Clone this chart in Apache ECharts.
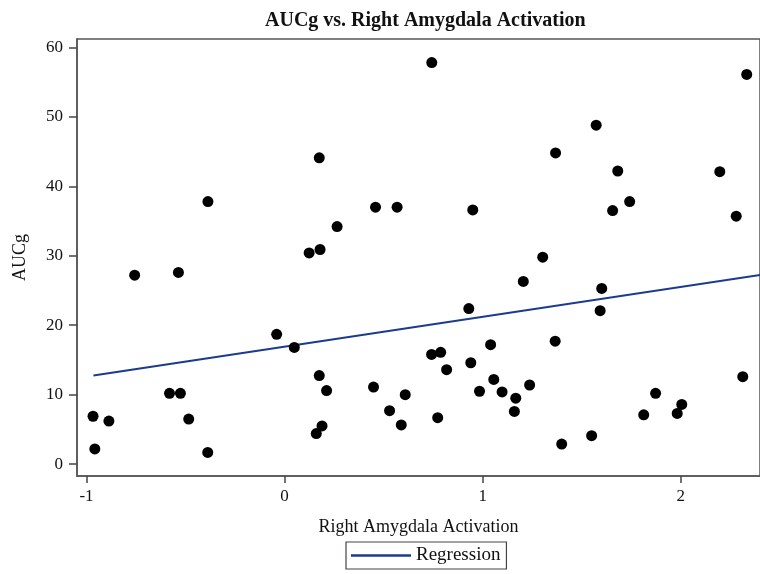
<!DOCTYPE html>
<html><head><meta charset="utf-8">
<script src="https://cdn.jsdelivr.net/npm/echarts@6/dist/echarts.min.js"></script>
<style>html,body{margin:0;padding:0;background:#fff}#c{width:760px;height:574px}</style>
</head><body><div id="c"></div>
<script>
var activation = [-0.967,-0.958,-0.887,-0.757,-0.536,-0.581,-0.526,-0.484,-0.388,-0.387,-0.04,0.049,0.124,0.179,0.175,0.265,0.459,0.568,0.743,0.950,0.175,0.212,0.189,0.160,0.449,0.530,0.609,0.589,0.742,0.788,0.818,0.773,0.930,0.940,1.040,1.056,0.984,1.098,1.167,1.160,1.205,2.333,1.573,1.368,1.682,2.197,1.742,1.656,2.280,1.303,1.601,1.593,1.366,2.313,1.237,1.873,2.005,1.982,1.813,1.399,1.550];
var aucg = [6.9,2.2,6.2,27.2,27.6,10.2,10.2,6.5,1.7,37.8,18.7,16.8,30.4,30.9,44.1,34.2,37.0,37.0,57.8,36.6,12.75,10.6,5.5,4.4,11.1,7.7,10.0,5.65,15.8,16.1,13.6,6.7,22.4,14.6,17.2,12.2,10.5,10.4,9.5,7.6,26.3,56.1,48.8,44.8,42.2,42.1,37.8,36.5,35.7,29.8,25.3,22.1,17.7,12.6,11.4,10.2,8.6,7.3,7.1,2.9,4.1];
var regX = [-0.965, 2.40];
var regY = [12.75, 27.25];
var xTicks = [-1, 0, 1, 2];
var yTicks = [0, 10, 20, 30, 40, 50, 60];

var pts = activation.map(function (v, i) { return [v, aucg[i]]; });
var reg = regX.map(function (v, i) { return [v, regY[i]]; });
var serif = 'Liberation Serif';
var chart = echarts.init(document.getElementById('c'), null, {renderer: 'canvas'});
chart.setOption({
  animation: false,
  backgroundColor: '#fff',
  title: {
    text: 'AUCg vs. Right Amygdala Activation',
    left: 260, top: 6,
    textStyle: {fontFamily: serif, fontWeight: 'bold', fontSize: 20, color: '#111'}
  },
  grid: {left: 77, top: 39, right: -11, bottom: 98, show: true, borderColor: '#555', borderWidth: 1.5, backgroundColor: '#fff'},
  legend: {
    data: [{name: 'Regression', icon: 'rect'}], left: 346, top: 542,
    borderColor: '#444', borderWidth: 1.2, padding: [4, 6, 4, 5],
    itemWidth: 60, itemHeight: 2.5, itemGap: 7,
    textStyle: {fontFamily: serif, fontSize: 19, color: '#111'}
  },
  xAxis: {
    type: 'value', min: -1.048, max: 2.40,
    name: 'Right Amygdala Activation', nameLocation: 'middle', nameGap: 42,
    nameTextStyle: {fontFamily: serif, fontSize: 18, color: '#111'},
    axisLine: {show: true, onZero: false, lineStyle: {color: '#555', width: 1.5}},
    axisTick: {show: true, inside: false, customValues: xTicks, length: 7, lineStyle: {color: '#444', width: 1.5}},
    axisLabel: {customValues: xTicks, fontFamily: serif, fontSize: 17, color: '#111', margin: 12},
    splitLine: {show: false}
  },
  yAxis: {
    type: 'value', min: -1.7, max: 61.2,
    name: 'AUCg', nameLocation: 'middle', nameGap: 48, nameRotate: 90,
    nameTextStyle: {fontFamily: serif, fontSize: 18, color: '#111'},
    axisLine: {show: true, onZero: false, lineStyle: {color: '#555', width: 1.5}},
    axisTick: {show: true, inside: false, customValues: yTicks, length: 8, lineStyle: {color: '#444', width: 1.5}},
    axisLabel: {customValues: yTicks, fontFamily: serif, fontSize: 17, color: '#111', margin: 14},
    splitLine: {show: false}
  },
  series: [
    {type: 'scatter', name: 'AUCg', data: pts, symbol: 'circle', symbolSize: 11,
     itemStyle: {color: '#000', opacity: 1}, z: 3},
    {type: 'line', name: 'Regression', data: reg, symbol: 'none', showSymbol: false,
     lineStyle: {color: '#1c3a8e', width: 2}, itemStyle: {color: '#1c3a8e'}, z: 2, clip: true}
  ]
});
</script></body></html>
